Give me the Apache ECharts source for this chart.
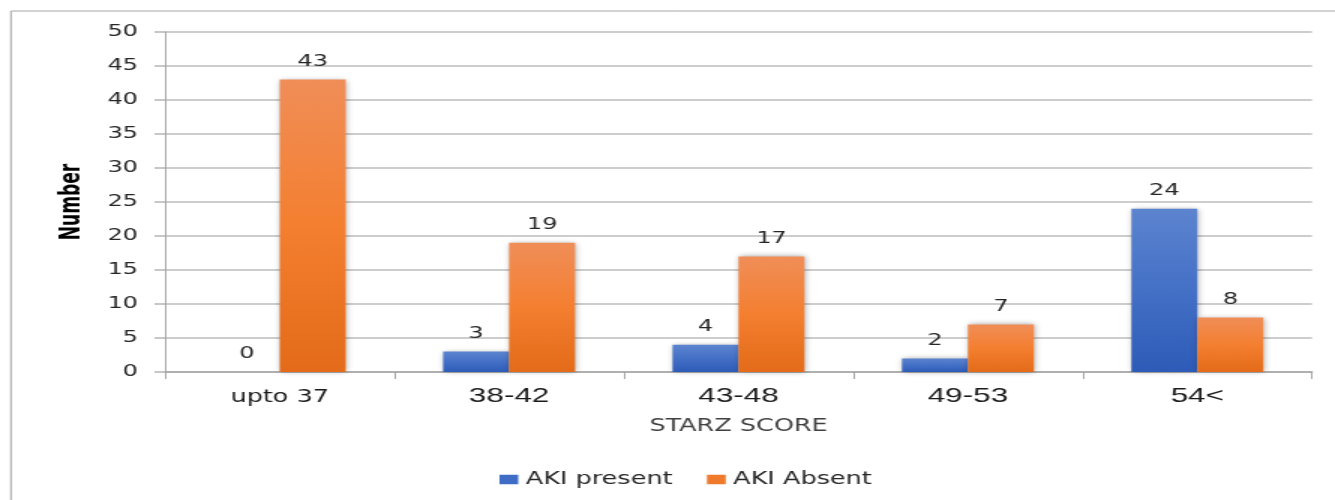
<!DOCTYPE html>
<html>
<head>
<meta charset="utf-8">
<script src="https://cdn.jsdelivr.net/npm/echarts@6/dist/echarts.min.js"></script>
<style>
  html, body { margin: 0; padding: 0; background: #fff; overflow: hidden; }
  /* chart is laid out narrow and widened horizontally, like a stretched spreadsheet chart */
  #chart { width: 890px; height: 500px; transform: scaleX(1.5); transform-origin: 0 0; }
</style>
</head>
<body>
<div id="chart"></div>
<script>
const categories = ['upto 37', '38-42', '43-48', '49-53', '54<'];
const akiPresent = [0, 3, 4, 2, 24];
const akiAbsent = [43, 19, 17, 7, 8];
const seriesNames = ['AKI present', 'AKI Absent'];
const yTicks = { min: 0, max: 50, interval: 5 };

const chart = echarts.init(document.getElementById('chart'));

function grad(stops) {
  return new echarts.graphic.LinearGradient(0, 0, 0, 1,
    stops.map(function (c, i) { return { offset: i / (stops.length - 1), color: c }; }));
}

const labelStyle = {
  show: true,
  position: 'top',
  distance: 10,
  fontFamily: 'DejaVu Sans',
  fontSize: 16,
  color: '#262626'
};

const barShadow = {
  shadowBlur: 5,
  shadowColor: 'rgba(0,0,0,0.35)',
  shadowOffsetX: 1,
  shadowOffsetY: 0
};

chart.setOption({
  animation: false,
  graphic: [{
    type: 'rect',
    shape: { x: 7.3, y: 11, width: 2000, height: 1000 },
    style: { fill: 'none', stroke: '#a6a6a6', lineWidth: 1 },
    silent: true
  }],
  grid: { left: 110, right: 15.3, top: 32, bottom: 128 },
  legend: {
    left: 328,
    top: 466,
    itemWidth: 12.5,
    itemHeight: 9.5,
    itemGap: 23,
    symbolKeepAspect: false,
    data: [
      { name: seriesNames[0], icon: 'rect', itemStyle: { color: '#3f6cc4', shadowBlur: 0 } },
      { name: seriesNames[1], icon: 'rect', itemStyle: { color: '#ef7a2c', shadowBlur: 0 } }
    ],
    textStyle: { fontFamily: 'DejaVu Sans', fontSize: 17, color: '#262626' }
  },
  xAxis: {
    type: 'category',
    data: categories,
    name: 'STARZ SCORE',
    nameLocation: 'middle',
    nameGap: 46,
    nameTextStyle: { fontFamily: 'DejaVu Sans', fontSize: 17, color: '#404040' },
    axisLine: { lineStyle: { color: '#a6a6a6', width: 1.5 } },
    axisTick: { show: true, length: 7, lineStyle: { color: '#a6a6a6', width: 1 } },
    axisLabel: {
      margin: 14,
      color: '#1a1a1a',
      formatter: function (v, i) { return i === 0 ? '{a|' + v + '}' : '{b|' + v + '}'; },
      rich: {
        a: { fontFamily: 'DejaVu Sans', fontSize: 17, color: '#1a1a1a', padding: [3, 0, 0, 0] },
        b: { fontFamily: 'Liberation Sans', fontSize: 21, color: '#1a1a1a' }
      }
    }
  },
  yAxis: {
    type: 'value',
    min: yTicks.min,
    max: yTicks.max,
    interval: yTicks.interval,
    name: 'Number',
    nameLocation: 'middle',
    nameGap: 52,
    nameTextStyle: {
      fontFamily: '"Liberation Sans Narrow", "DejaVu Sans Condensed", "Liberation Sans"',
      fontWeight: 'bold',
      fontSize: 19,
      color: '#000'
    },
    axisLine: { show: true, lineStyle: { color: '#a6a6a6', width: 1 } },
    axisTick: { show: true, length: 7, lineStyle: { color: '#b5b5b5', width: 1.5 } },
    axisLabel: { margin: 18, fontFamily: 'DejaVu Sans', fontSize: 16, color: '#262626' },
    splitLine: { lineStyle: { color: '#bdbdbd', width: 1.5 } }
  },
  series: [
    {
      name: seriesNames[0],
      type: 'bar',
      data: akiPresent,
      barGap: 0,
      barCategoryGap: '42.5%',
      itemStyle: Object.assign({ color: grad(['#5c84cf', '#4470c6', '#2d5bb7']) }, barShadow),
      label: labelStyle
    },
    {
      name: seriesNames[1],
      type: 'bar',
      data: akiAbsent,
      barGap: 0,
      barCategoryGap: '42.5%',
      itemStyle: Object.assign({ color: grad(['#f08e58', '#f47f30', '#e36b19']) }, barShadow),
      label: labelStyle
    }
  ]
});
</script>
</body>
</html>
